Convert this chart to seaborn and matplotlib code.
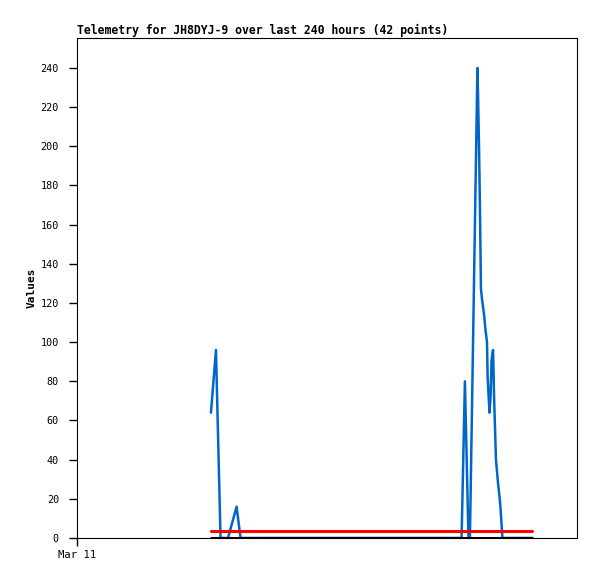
import numpy as np
import pandas as pd
import matplotlib
matplotlib.use("Agg")
import matplotlib.pyplot as plt
import seaborn as sns

# hours since Mar 11 00:00 and telemetry values
hours = [64.3, 66.7, 68.9, 72.5, 76.6, 78.5, 120.0, 160.0, 184.6, 186.2, 187.9,
         188.6, 192.2, 192.5, 193.0, 193.4, 193.9, 194.4, 194.9, 195.4, 196.1,
         196.8, 197.1, 198.0, 198.5, 199.0, 199.7, 200.2, 201.1, 202.1, 203.0,
         203.5, 204.2, 210.0, 218.4]
values = [64, 96, 0, 0, 16, 0, 0, 0, 0, 80, 0,
          0, 240, 226, 198, 170, 127, 122, 118, 114, 106,
          100, 82, 64, 72, 91, 96, 72, 40, 28, 19,
          12, 0, 0, 0]
line_start, line_end = 64.3, 218.4
red_level = 3.6
zero_level = 0

title = "Telemetry for JH8DYJ-9 over last 240 hours (42 points)"
y_ticks = list(range(0, 241, 20))
x_tick_labels = ["Mar 11"]

df = pd.DataFrame({"hours": hours, "value": values})

sns.set_style("white")
plt.rcParams['font.family'] = ['DejaVu Sans Mono']
plt.rcParams['text.color'] = 'black'

fig = plt.figure(figsize=(5.97, 5.79), dpi=100)
ax = fig.add_axes([77 / 597, 1 - 538 / 579, 500 / 597, 500 / 579])

sns.lineplot(data=df, x="hours", y="value", color="#0066cc", linewidth=1.8,
             ax=ax, zorder=2, estimator=None, sort=False)
ax.plot([line_start, line_end], [red_level, red_level], color="#ff0000", linewidth=2.2, zorder=3)
ax.plot([line_start, line_end], [zero_level, zero_level], color="black", linewidth=2.2, zorder=4)

ax.set_xlim(0, 240)
ax.set_ylim(0, 255.3)
ax.set_yticks(y_ticks)
ax.set_yticklabels([str(t) for t in y_ticks], fontsize=7.3)
ax.set_xticks([0])
ax.set_xticklabels(x_tick_labels, fontsize=7.6)
ax.tick_params(axis="both", direction="out", length=6, width=1, color="black",
               labelcolor="black")
ax.tick_params(axis="y", left=True, pad=7)
ax.tick_params(axis="x", bottom=True, pad=3)

for s in ax.spines.values():
    s.set_color("black")
    s.set_linewidth(0.8)

ax.set_xlabel("")
ax.set_ylabel("Values", fontsize=8, fontweight="bold", labelpad=3, color="black")
ax.set_title(title, loc="left", fontsize=8.3, fontweight="bold", pad=3, color="black")

fig.savefig("out.png", dpi=100)
